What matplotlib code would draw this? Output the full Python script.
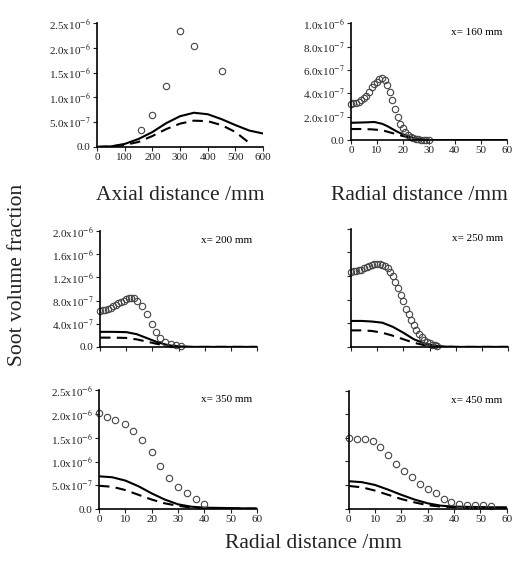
import matplotlib
matplotlib.use('Agg')
import matplotlib.pyplot as plt

plt.rcParams['font.family'] = ['Liberation Serif', 'DejaVu Serif']
plt.rcParams['mathtext.fontset'] = 'stix'

# axial profile (x in mm, fv in 1e-6)
ax_exp_x = [160, 200, 250, 300, 350, 450]
ax_exp_y = [0.34, 0.645, 1.23, 2.34, 2.03, 1.53]
ax_sol_x = [0, 50, 100, 150, 200, 250, 300, 350, 400, 450, 500, 550, 600]
ax_sol_y = [0.0, 0.01, 0.06, 0.16, 0.30, 0.48, 0.62, 0.69, 0.66, 0.56, 0.44, 0.33, 0.27]
ax_das_x = [0, 50, 100, 150, 200, 250, 300, 350, 400, 450, 500, 550]
ax_das_y = [0.0, 0.01, 0.04, 0.10, 0.22, 0.36, 0.47, 0.53, 0.52, 0.44, 0.30, 0.08]

# x = 160 mm
r160_exp_x = list(range(0, 31))
r160_exp_y = [0.31, 0.315, 0.32, 0.33, 0.34, 0.36, 0.38, 0.41, 0.45, 0.48, 0.50, 0.52, 0.53, 0.51,
              0.47, 0.41, 0.34, 0.27, 0.20, 0.14, 0.10, 0.07, 0.045, 0.03, 0.02, 0.01, 0.006,
              0.005, 0.004, 0.003, 0.002]
r160_sol_x = [0, 3, 6, 9, 12, 14, 16, 18, 20, 22, 24, 26, 28, 30, 40, 50, 60]
r160_sol_y = [0.148, 0.15, 0.152, 0.155, 0.14, 0.12, 0.095, 0.07, 0.05, 0.035, 0.02, 0.01, 0.004, 0.0, 0.0, 0.0, 0.0]
r160_das_x = [0, 4, 8, 12, 16, 20, 24, 28, 32, 40, 50, 60]
r160_das_y = [0.095, 0.095, 0.092, 0.085, 0.06, 0.035, 0.015, 0.003, 0.0, 0.0, 0.0, 0.0]

# x = 200 mm
r200_exp_x = list(range(0, 15)) + [16, 18, 20, 21.5, 23, 25, 27, 29, 31]
r200_exp_y = [0.62, 0.63, 0.645, 0.66, 0.68, 0.70, 0.72, 0.75, 0.78, 0.80, 0.83, 0.84, 0.85,
              0.84, 0.80, 0.70, 0.56, 0.40, 0.25, 0.16, 0.09, 0.05, 0.03, 0.01]
r200_sol_x = [0, 5, 10, 14, 18, 22, 26, 30, 35, 40, 50, 60]
r200_sol_y = [0.26, 0.26, 0.255, 0.22, 0.15, 0.08, 0.03, 0.01, 0.0, 0.0, 0.0, 0.0]
r200_das_x = [0, 5, 10, 14, 18, 22, 26, 30, 35, 40, 50, 60]
r200_das_y = [0.16, 0.16, 0.155, 0.13, 0.09, 0.05, 0.02, 0.005, 0.0, 0.0, 0.0, 0.0]

# x = 250 mm
r250_exp_x = list(range(0, 34))
r250_exp_y = [1.27, 1.28, 1.29, 1.30, 1.31, 1.33, 1.35, 1.37, 1.39, 1.40, 1.40, 1.40, 1.39,
              1.37, 1.33, 1.27, 1.20, 1.10, 1.00, 0.88, 0.77, 0.65, 0.55, 0.46, 0.37, 0.29,
              0.22, 0.17, 0.12, 0.09, 0.06, 0.04, 0.03, 0.02]
r250_sol_x = [0, 4, 8, 12, 16, 20, 24, 28, 32, 36, 40, 50, 60]
r250_sol_y = [0.44, 0.44, 0.43, 0.41, 0.34, 0.24, 0.13, 0.06, 0.02, 0.005, 0.0, 0.0, 0.0]
r250_das_x = [0, 4, 8, 12, 16, 20, 24, 28, 32, 36, 40, 50, 60]
r250_das_y = [0.28, 0.28, 0.27, 0.24, 0.19, 0.13, 0.07, 0.03, 0.01, 0.003, 0.0, 0.0, 0.0]

# x = 350 mm
r350_exp_x = [0, 3, 6, 10, 13, 16.5, 20, 23, 26.5, 30, 33.5, 37, 40]
r350_exp_y = [2.02, 1.95, 1.87, 1.79, 1.64, 1.46, 1.21, 0.90, 0.65, 0.46, 0.34, 0.21, 0.11]
r350_sol_x = [0, 5, 10, 15, 20, 25, 30, 35, 40, 50, 60]
r350_sol_y = [0.69, 0.67, 0.60, 0.48, 0.33, 0.20, 0.10, 0.05, 0.03, 0.02, 0.01]
r350_das_x = [0, 5, 10, 15, 20, 25, 30, 35, 40, 50, 60]
r350_das_y = [0.49, 0.47, 0.40, 0.30, 0.20, 0.12, 0.07, 0.03, 0.02, 0.01, 0.01]

# x = 450 mm
r450_exp_x = list(range(0, 57, 3))
r450_exp_y = [1.49, 1.48, 1.47, 1.44, 1.30, 1.13, 0.94, 0.79, 0.66, 0.53, 0.42, 0.32, 0.21,
              0.14, 0.10, 0.08, 0.07, 0.07, 0.06]
r450_sol_x = [0, 5, 10, 15, 20, 25, 30, 35, 40, 50, 60]
r450_sol_y = [0.58, 0.56, 0.50, 0.40, 0.29, 0.19, 0.11, 0.06, 0.04, 0.03, 0.02]
r450_das_x = [0, 5, 10, 15, 20, 25, 30, 35, 40, 50, 60]
r450_das_y = [0.48, 0.45, 0.38, 0.29, 0.20, 0.13, 0.07, 0.04, 0.03, 0.02, 0.02]

lab_25 = ['0.0', r'5.0x10$^{-7}$', r'1.0x10$^{-6}$', r'1.5x10$^{-6}$', r'2.0x10$^{-6}$', r'2.5x10$^{-6}$']
lab_10 = ['0.0', r'2.0x10$^{-7}$', r'4.0x10$^{-7}$', r'6.0x10$^{-7}$', r'8.0x10$^{-7}$', r'1.0x10$^{-6}$']
lab_20 = ['0.0', r'4.0x10$^{-7}$', r'8.0x10$^{-7}$', r'1.2x10$^{-6}$', r'1.6x10$^{-6}$', r'2.0x10$^{-6}$']

fig = plt.figure(figsize=(5.16, 5.65), dpi=100)


def panel(rect, ex, ey, sx, sy, dx, dy, xmax, xstep, ymax, ylabels, xlabels=True, note=None):
    ax = fig.add_axes(rect)
    ax.plot(sx, sy, color='black', lw=1.5)
    ax.plot(dx, dy, color='black', lw=1.5, dashes=(5, 3))
    ax.plot(ex, ey, 'o', ms=4.6, mfc='none', mec='#444444', mew=0.8, clip_on=False)
    ax.set_xlim(0, xmax)
    ax.set_ylim(0, ymax)
    ax.set_xticks(range(0, xmax + 1, xstep))
    yt = [ymax * i / 5 for i in range(6)]
    ax.set_yticks(yt)
    if ylabels is None:
        ax.set_yticklabels([])
    else:
        ax.set_yticklabels(ylabels)
    if not xlabels:
        ax.set_xticklabels([])
    for s in ['top', 'right']:
        ax.spines[s].set_visible(False)
    for s in ['left', 'bottom']:
        ax.spines[s].set_linewidth(1.2)
    ax.tick_params(direction='out', length=3, width=0.8, labelsize=8, pad=1.5, colors='#222222')
    if note:
        ax.text(0.97, 0.92, note, transform=ax.transAxes, ha='right', va='center', fontsize=8)
    return ax


panel([0.188, 0.740, 0.322, 0.219], ax_exp_x, ax_exp_y, ax_sol_x, ax_sol_y, ax_das_x, ax_das_y,
      600, 100, 2.5, lab_25)
panel([0.680, 0.752, 0.302, 0.207], r160_exp_x, r160_exp_y, r160_sol_x, r160_sol_y, r160_das_x, r160_das_y,
      60, 10, 1.0, lab_10, note='x= 160 mm')
panel([0.194, 0.386, 0.304, 0.205], r200_exp_x, r200_exp_y, r200_sol_x, r200_sol_y, r200_das_x, r200_das_y,
      60, 10, 2.0, lab_20, xlabels=False, note='x= 200 mm')
panel([0.680, 0.386, 0.305, 0.209], r250_exp_x, r250_exp_y, r250_sol_x, r250_sol_y, r250_das_x, r250_das_y,
      60, 10, 2.0, None, xlabels=False, note='x= 250 mm')
panel([0.192, 0.099, 0.306, 0.210], r350_exp_x, r350_exp_y, r350_sol_x, r350_sol_y, r350_das_x, r350_das_y,
      60, 10, 2.5, lab_25, note='x= 350 mm')
panel([0.676, 0.100, 0.306, 0.208], r450_exp_x, r450_exp_y, r450_sol_x, r450_sol_y, r450_das_x, r450_das_y,
      60, 10, 2.5, None, note='x= 450 mm')

fig.text(180 / 516, 1 - 195 / 565, 'Axial distance /mm', ha='center', va='center', fontsize=15.5, color='#222222')
fig.text(419 / 516, 1 - 195 / 565, 'Radial distance /mm', ha='center', va='center', fontsize=15.5, color='#222222')
fig.text(313 / 516, 1 - 543 / 565, 'Radial distance /mm', ha='center', va='center', fontsize=15.5, color='#222222')
fig.text(18 / 516, 1 - 275 / 565, 'Soot volume fraction', ha='center', va='center', rotation=90,
         fontsize=15.5, color='#222222')

fig.savefig('out.png', dpi=100)
